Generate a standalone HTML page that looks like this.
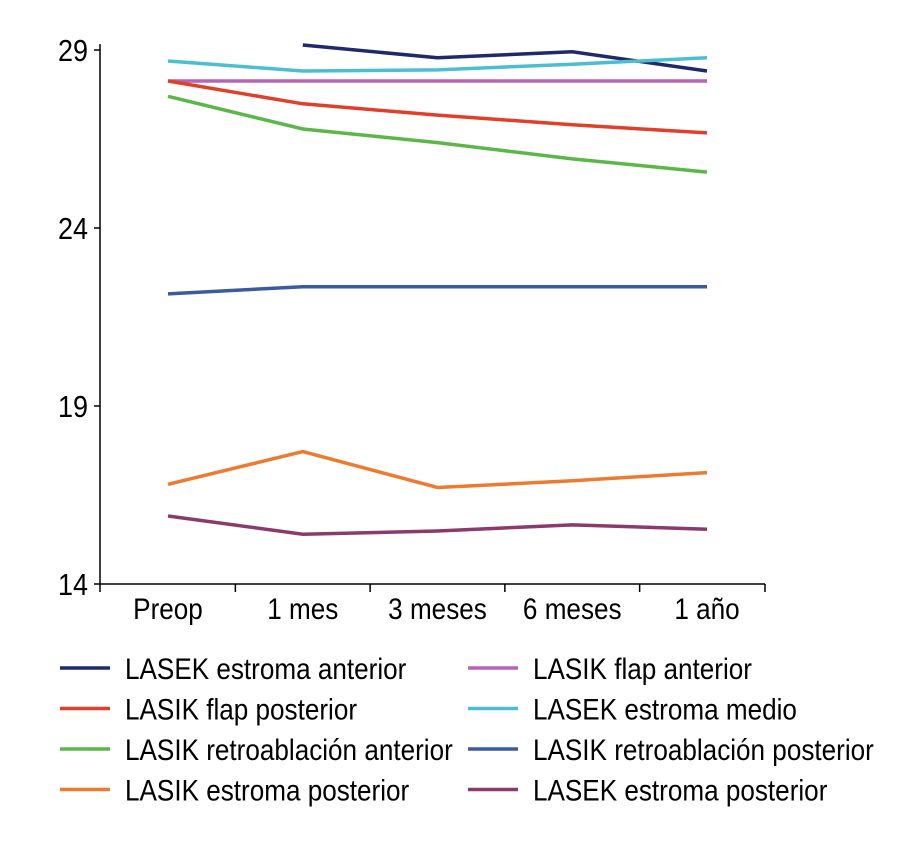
<!DOCTYPE html>
<html><head><meta charset="utf-8"><style>
html,body{margin:0;padding:0;background:#fff;}
svg{display:block;font-family:"Liberation Sans",sans-serif;}
</style></head><body>
<svg id="chart" width="912" height="858" viewBox="0 0 912 858">
<g id="axes"></g><g id="series"></g><g id="legend"></g>
</svg>
<script>
const categories=["Preop","1 mes","3 meses","6 meses","1 año"];
const yTicks=[14,19,24,29];
const seriesNames=["LASEK estroma anterior","LASIK flap anterior","LASIK flap posterior","LASEK estroma medio","LASIK retroablación anterior","LASIK retroablación posterior","LASIK estroma posterior","LASEK estroma posterior"];
const seriesColors=["#1f2a6b","#b565b5","#e0402a","#4bbfd0","#5ab848","#3a5ba0","#ee7a30","#8b3a6b"];
const lasekEstromaAnterior=[null,29.14,28.78,28.95,28.41];
const lasikFlapAnterior=[28.13,28.13,28.13,28.13,28.13];
const lasikFlapPosterior=[28.13,27.49,27.17,26.9,26.67];
const lasekEstromaMedio=[28.69,28.41,28.44,28.6,28.78];
const lasikRetroAnterior=[27.7,26.78,26.4,25.94,25.57];
const lasikRetroPosterior=[22.15,22.35,22.35,22.35,22.35];
const lasikEstromaPosterior=[16.8,17.72,16.71,16.9,17.13];
const lasekEstromaPosterior=[15.91,15.4,15.49,15.66,15.54];
const allSeries=[lasekEstromaAnterior,lasikFlapAnterior,lasikFlapPosterior,lasekEstromaMedio,lasikRetroAnterior,lasikRetroPosterior,lasikEstromaPosterior,lasekEstromaPosterior];
const legendOrder=[0,1,2,3,4,5,6,7];
const NS="http://www.w3.org/2000/svg";
const x0=100,x1=765,yTop=50,yBot=584,yMin=14,yMax=29;
const SX=0.87;
const catX=i=>168+i*134.75;
const yS=v=>yBot-(v-yMin)/(yMax-yMin)*(yBot-yTop);
function mk(tag,attrs,parent){const e=document.createElementNS(NS,tag);for(const k in attrs)e.setAttribute(k,attrs[k]);parent.appendChild(e);return e;}
const axes=document.getElementById('axes');
let e=mk('line',{x1:x0,y1:yTop-6,x2:x0,y2:yBot,stroke:'#000','stroke-width':1.5},axes);


e=mk('line',{x1:x0,y1:yBot,x2:x1,y2:yBot,stroke:'#000','stroke-width':1.5},axes);


yTicks.forEach(t=>{
 mk('line',{x1:x0-6,y1:yS(t),x2:x0,y2:yS(t),stroke:'#000','stroke-width':1.5},axes);
 const tx=mk('text',{x:88,y:yS(t)+11,'text-anchor':'end','font-size':31,transform:`translate(88 0) scale(${SX} 1) translate(-88 0)`},axes);
 tx.textContent=t;
 
 
});
for(let i=0;i<=categories.length;i++){
 const xx=i==0?x0:(i==categories.length?x1:(catX(i-1)+catX(i))/2);
 mk('line',{x1:xx,y1:yBot,x2:xx,y2:yBot+8,stroke:'#000','stroke-width':1.5},axes);
}
categories.forEach((c,i)=>{
 const cx=catX(i);
 const tx=mk('text',{x:cx,y:619,'text-anchor':'middle','font-size':30,transform:`translate(${cx} 0) scale(${SX} 1) translate(${-cx} 0)`},axes);
 tx.textContent=c;
 
 
});
const sg=document.getElementById('series');
allSeries.forEach((s,k)=>{
 const pts=[];s.forEach((v,i)=>{if(v!==null)pts.push(catX(i).toFixed(1)+','+yS(v).toFixed(1));});
 const p=mk('polyline',{points:pts.join(' '),fill:'none',stroke:seriesColors[k],'stroke-width':3.5},sg);
 
 
});
const lg=document.getElementById('legend');
legendOrder.forEach((k,j)=>{
 const col=j%2,row=Math.floor(j/2);
 const lx=col==0?60:468,ly=668+row*40.5;
 const g=mk('g',{},lg);
 
 
 mk('line',{x1:lx,y1:ly,x2:lx+50,y2:ly,stroke:seriesColors[k],'stroke-width':3.5},g);
 const tx=lx+65;
 const t=mk('text',{x:tx,y:ly+11,'font-size':30,transform:`translate(${tx} 0) scale(${SX} 1) translate(${-tx} 0)`},g);
 t.textContent=seriesNames[k];
});
</script>
</body></html>
